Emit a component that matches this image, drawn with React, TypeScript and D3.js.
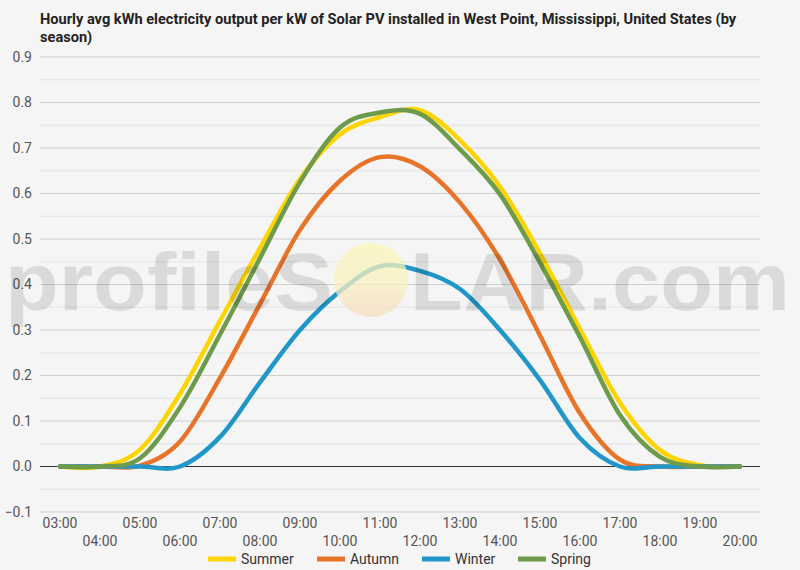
import React from "react";
import * as d3 from "d3";

const hours = ["03:00","04:00","05:00","06:00","07:00","08:00","09:00","10:00","11:00","12:00","13:00","14:00","15:00","16:00","17:00","18:00","19:00","20:00"];
const summer = [0, 0, 0.037, 0.16, 0.32, 0.48, 0.632, 0.73, 0.768, 0.783, 0.717, 0.615, 0.468, 0.302, 0.14, 0.036, 0.003, 0];
const autumn = [0, 0, 0.002, 0.055, 0.195, 0.357, 0.52, 0.628, 0.68, 0.66, 0.58, 0.455, 0.288, 0.117, 0.015, 0, 0, 0];
const winter = [0, 0, 0, 0, 0.065, 0.185, 0.3, 0.385, 0.44, 0.43, 0.39, 0.3, 0.19, 0.062, 0, 0, 0, 0];
const spring = [0, 0, 0.018, 0.13, 0.29, 0.458, 0.625, 0.745, 0.778, 0.775, 0.697, 0.598, 0.448, 0.284, 0.113, 0.021, 0, 0];
const seriesNames = ["Summer", "Autumn", "Winter", "Spring"];
const seriesColors = ["#FCD500", "#E8742A", "#2196C8", "#6E9A4C"];
const yTicks = [-0.1, 0, 0.1, 0.2, 0.3, 0.4, 0.5, 0.6, 0.7, 0.8, 0.9];
const titleLines = [
  "Hourly avg kWh electricity output per kW of Solar PV installed in West Point, Mississippi, United States (by",
  "season)",
];

export default function App() {
  const W = 800, H = 570;
  const left = 40, right = 760, top = 57, bottom = 512;
  const x = d3.scaleBand().domain(hours).range([left, right]);
  const y = d3.scaleLinear().domain([-0.1, 0.9]).range([bottom, top]);
  const xc = (h: string) => (x(h) as number) + x.bandwidth() / 2;
  const line = d3
    .line<number>()
    .x((_, i) => xc(hours[i]))
    .y((v) => y(v))
    .curve(d3.curveCardinal.tension(0));
  const allSeries = [summer, autumn, winter, spring];
  const minor = d3.range(-0.05, 0.9, 0.1);
  const legendX = [208, 317, 422, 518];
  const font = "Roboto, sans-serif";
  const wmFont = "'Liberation Sans', Arial, sans-serif";

  return (
    <svg
      width={W}
      height={H}
      style={{ position: "absolute", left: 0, top: 0, background: "#f5f5f5" }}
      fontFamily={font}
    >
      <rect x={0} y={0} width={W} height={H} fill="#f5f5f5" />
      {titleLines.map((t, i) => (
        <text key={i} x={40} y={24 + i * 18} fontSize={14.6} fontWeight="bold" fill="#222">
          {t}
        </text>
      ))}
      {minor.map((v, i) => (
        <line key={"m" + i} x1={left} x2={right} y1={y(v)} y2={y(v)} stroke="#e3e3e3" strokeWidth={1} />
      ))}
      {yTicks.map((v, i) => (
        <g key={"t" + i}>
          {v !== 0 && (
            <line x1={left} x2={right} y1={y(v)} y2={y(v)} stroke="#cfcfcf" strokeWidth={1} />
          )}
          <text x={32} y={y(v)} dy="0.35em" textAnchor="end" fontSize={14} fill="#555">
            {d3.format(".1f")(v)}
          </text>
        </g>
      ))}
      <line x1={left} x2={right} y1={y(0)} y2={y(0)} stroke="#333" strokeWidth={1} />
      {hours.map((h, i) => (
        <text key={h} x={xc(h)} y={i % 2 === 0 ? 528 : 546} textAnchor="middle" fontSize={14} fill="#555">
          {h}
        </text>
      ))}
      {allSeries.map((s, i) => (
        <path
          key={seriesNames[i]}
          d={line(s) || ""}
          fill="none"
          stroke={seriesColors[i]}
          strokeWidth={4.5}
          strokeLinecap="round"
          strokeLinejoin="round"
        />
      ))}
      <defs>
        <linearGradient id="sun" x1="0" y1="0" x2="0" y2="1">
          <stop offset="0" stopColor="#fbf6b8" />
          <stop offset="0.55" stopColor="#f9f0c0" />
          <stop offset="1" stopColor="#f5dcc0" />
        </linearGradient>
      </defs>
      <g pointerEvents="none">
        <text x={5} y={310} textLength={328} lengthAdjust="spacingAndGlyphs" fontFamily={wmFont} fontWeight="bold" fontSize={82} fill="#000" fillOpacity={0.11}>
          profileS
        </text>
        <circle cx={371} cy={280} r={37} fill="url(#sun)" opacity={0.75} />
        <text x={410} y={310} textLength={380} lengthAdjust="spacingAndGlyphs" fontFamily={wmFont} fontWeight="bold" fontSize={82} fill="#000" fillOpacity={0.11}>
          LAR.com
        </text>
      </g>
      {seriesNames.map((n, i) => (
        <g key={"l" + n}>
          <line x1={legendX[i]} x2={legendX[i] + 28} y1={559} y2={559} stroke={seriesColors[i]} strokeWidth={5} />
          <text x={legendX[i] + 33} y={564} fontSize={14} fill="#333">
            {n}
          </text>
        </g>
      ))}
    </svg>
  );
}
